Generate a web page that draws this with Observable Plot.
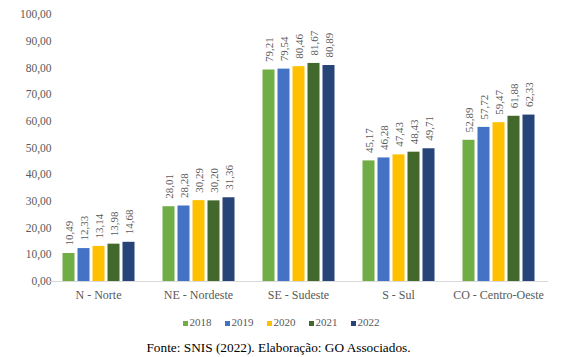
<!DOCTYPE html>
<html><head><meta charset="utf-8">
<script src="https://cdn.jsdelivr.net/npm/d3@7"></script>
<script src="https://cdn.jsdelivr.net/npm/@observablehq/plot@0.6"></script>
<style>
html,body{margin:0;padding:0;background:#fff;}
#wrap{position:relative;width:567px;height:357px;overflow:hidden;font-family:"Liberation Serif",Tinos,"Times New Roman",Times,"DejaVu Serif",serif;background:#fff;}
#chart svg{display:block;font-family:"Liberation Serif",Tinos,"Times New Roman",Times,"DejaVu Serif",serif !important;}
#chart svg text{font-family:"Liberation Serif",Tinos,"Times New Roman",Times,"DejaVu Serif",serif;}
#chart svg [aria-label^="y-axis"] text{font-size:11.5px;}
#chart svg [aria-label^="fx-axis"] text{font-size:12px;}
#legend{position:absolute;left:0;width:562px;padding-right:5px;top:314px;height:16px;display:flex;justify-content:center;align-items:center;font-size:11px;line-height:16px;color:#595959;}
#legend .item{display:flex;align-items:baseline;margin:0 6.5px;}
#legend .sw{display:inline-block;width:5px;height:5px;margin-right:2px;}
#caption{position:absolute;left:0;width:557px;padding-right:10px;top:340px;height:16px;line-height:16px;text-align:center;font-size:13.3px;color:#000;}
</style>
</head><body>
<div id="wrap">
  <div id="chart"></div>
  <div id="legend"></div>
  <div id="caption">Fonte: SNIS (2022). Elaboração: GO Associados.</div>
</div>
<script>
const regions = ["N - Norte", "NE - Nordeste", "SE - Sudeste", "S - Sul", "CO - Centro-Oeste"];
const years = ["2018", "2019", "2020", "2021", "2022"];
const colors = ["#70AD47", "#4472C4", "#FFC000", "#43682B", "#264478"];
const v2018 = [10.49, 28.01, 79.21, 45.17, 52.89];
const v2019 = [12.33, 28.28, 79.54, 46.28, 57.72];
const v2020 = [13.14, 30.29, 80.46, 47.43, 59.47];
const v2021 = [13.98, 30.20, 81.67, 48.43, 61.88];
const v2022 = [14.68, 31.36, 80.89, 49.71, 62.33];
const yTicks = [0, 10, 20, 30, 40, 50, 60, 70, 80, 90, 100];

const series = [v2018, v2019, v2020, v2021, v2022];
const rows = regions.flatMap((r, i) => years.map((y, j) => ({region: r, year: y, value: series[j][i]})));
const fmt = v => v.toFixed(2).replace(".", ",");
const serif = "Liberation Serif, Tinos, Times New Roman, Times, DejaVu Serif, serif";

const chart = Plot.plot({
  width: 567,
  height: 310,
  marginLeft: 47.5,
  marginRight: 19.5,
  marginTop: 14,
  marginBottom: 29,
  style: {fontFamily: serif, fontSize: "12px", color: "#595959", background: "#fff"},
  facet: {data: rows, x: "region"},
  fx: {domain: regions, paddingInner: 0.264, paddingOuter: 0.132, axis: "bottom", tickSize: 0, tickPadding: 9, label: null},
  x: {domain: years, paddingInner: 0.22, paddingOuter: 0, axis: null},
  y: {domain: [0, 100], ticks: yTicks, tickSize: 0, tickPadding: 10, tickFormat: fmt, label: null, axis: "left"},
  color: {domain: years, range: colors},
  marks: [
    Plot.ruleY([0], {stroke: "#d9d9d9", strokeWidth: 1, insetLeft: -13.2, insetRight: -13.2}),
    Plot.barY(rows, {x: "year", y: "value", fill: "year"}),
    Plot.text(rows, {x: "year", y: "value", text: d => fmt(d.value), rotate: -90, textAnchor: "start", dy: -8, fontSize: 11, fill: "#595959"})
  ]
});
document.getElementById("chart").appendChild(chart);

const legend = document.getElementById("legend");
years.forEach((y, i) => {
  const item = document.createElement("span");
  item.className = "item";
  const sw = document.createElement("span");
  sw.className = "sw";
  sw.style.background = colors[i];
  item.appendChild(sw);
  item.appendChild(document.createTextNode(y));
  legend.appendChild(item);
});
</script>
</body></html>
